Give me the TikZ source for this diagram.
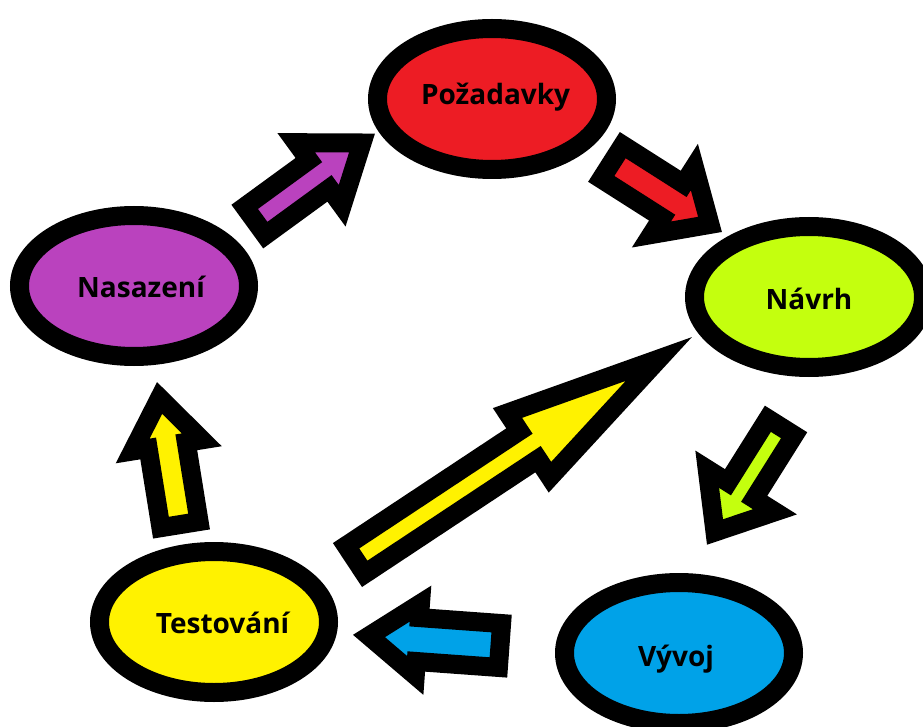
\documentclass[tikz,border=0pt]{standalone}
\usepackage{fontspec}
\setmainfont{Open Sans}
\usetikzlibrary{shapes.geometric,calc}

\definecolor{reqred}{HTML}{ED1C24}
\definecolor{designlime}{RGB}{196,255,14}
\definecolor{devblue}{HTML}{00A2E8}
\definecolor{testyellow}{HTML}{FFF200}
\definecolor{deploypurple}{RGB}{186,66,190}

\tikzset{
  stage/.style={ellipse, draw=black, line width=19pt,
    minimum width=229pt, minimum height=141pt, inner sep=0pt},
  stagetext/.style={font=\bfseries\fontsize{28}{30}\selectfont,
    text=black, text height=20pt, text depth=0pt, inner sep=0pt},
  arrowbody/.style={draw=black, line width=19pt, line join=miter, miter limit=10},
}

% block arrow: #1 tail, #2 tip, #3 shaft half-width, #4 head half-width,
% #5 head length, #6 fill colour (all on the centre line of the black rim)
\newcommand\blockarrow[6]{%
  \coordinate (ba-base) at ($(#2)!#5!(#1)$);
  \draw[arrowbody, fill=#6]
    ($(#1)!#3!90:(#2)$) -- ($(ba-base)!#3!90:(#2)$) -- ($(ba-base)!#4!90:(#2)$)
    -- (#2) -- ($(ba-base)!#4!-90:(#2)$) -- ($(ba-base)!#3!-90:(#2)$)
    -- ($(#1)!#3!-90:(#2)$) -- cycle;
}

\begin{document}
\begin{tikzpicture}[x=1pt, y=-1pt]
  \useasboundingbox (0,0) rectangle (923,727);
  \fill[white] (0,0) rectangle (923,727);
  \clip (0,0) rectangle (923,727);

  % stages of the cycle
  \node[stage, fill=reqred,
    label={[stagetext, xshift=3.6pt, yshift=4pt]center:Požadavky}] (poz) at (492,99) {};
  \node[stage, fill=designlime,
    label={[stagetext, yshift=-2pt]center:Návrh}] (nav) at (809,297) {};
  \node[stage, fill=devblue,
    label={[stagetext, xshift=-3pt, yshift=-3pt]center:Vývoj}] (vyv) at (679,653) {};
  \node[stage, fill=testyellow,
    label={[stagetext, xshift=8.5pt, yshift=-1pt]center:Testování}] (tes) at (214,622) {};
  \node[stage, fill=deploypurple,
    label={[stagetext, xshift=7pt, yshift=-1.5pt]center:Nasazení}] (nas) at (134,286) {};

  % arrow ends
  \coordinate (a1-tail) at (255,221);   \coordinate (a1-tip) at (362,143);
  \coordinate (a2-tail) at (612,162);   \coordinate (a2-tip) at (710,224.4);
  \coordinate (a3-tail) at (781,427);   \coordinate (a3-tip) at (715,532);
  \coordinate (a4-tail) at (500,645.5); \coordinate (a4-tip) at (369,636);
  \coordinate (a5-tail) at (180,524.6); \coordinate (a5-tip) at (159.6,398);
  \coordinate (a6-tail) at (355.4,559.8); \coordinate (a6-tip) at (658.8,359);

  % transitions between stages
  \blockarrow{a1-tail}{a1-tip}{17.5pt}{39pt}{53pt}{deploypurple}
  \blockarrow{a2-tail}{a2-tip}{20pt}{40pt}{44pt}{reqred}
  \blockarrow{a3-tail}{a3-tip}{15.5pt}{40pt}{49pt}{designlime}
  \blockarrow{a4-tail}{a4-tip}{22pt}{36pt}{49pt}{devblue}
  \blockarrow{a5-tail}{a5-tip}{19.3pt}{35pt}{48pt}{testyellow}
  \blockarrow{a6-tail}{a6-tip}{16.85pt}{38.5pt}{156pt}{testyellow}
\end{tikzpicture}
\end{document}
